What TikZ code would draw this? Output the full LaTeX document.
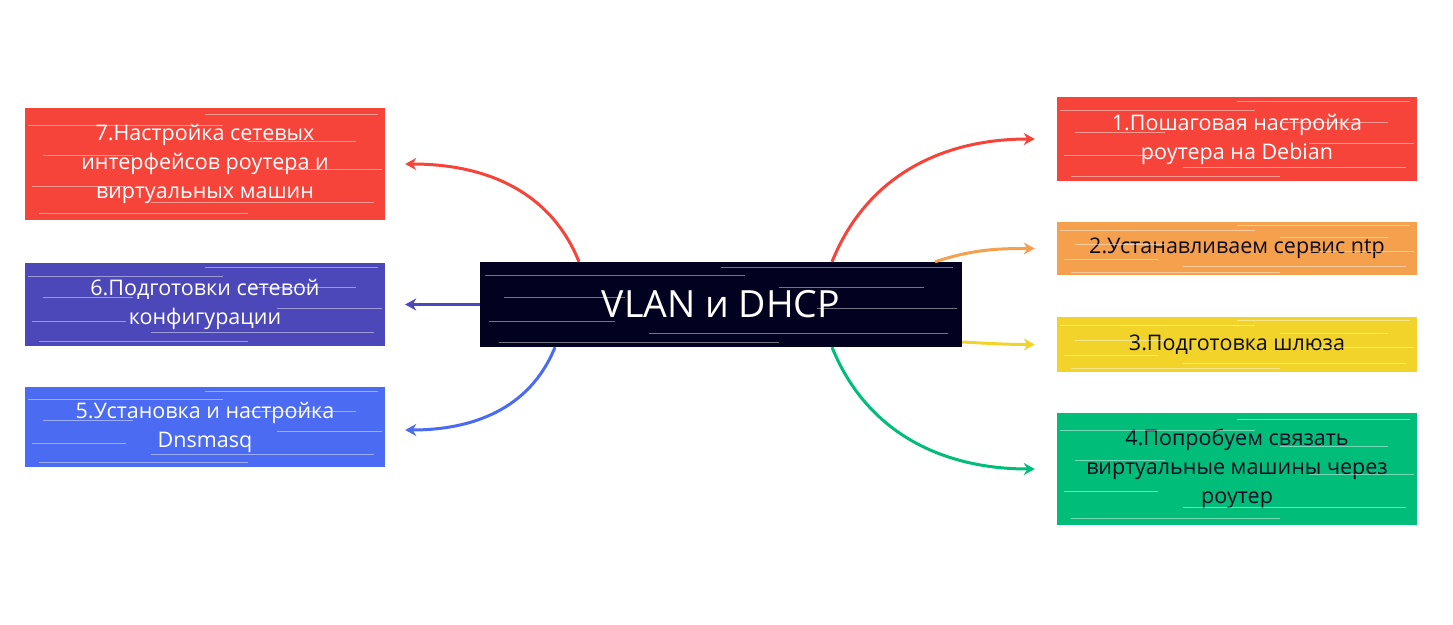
\documentclass[tikz,border=0pt]{standalone}
\usepackage{fontspec}
\setmainfont{Open Sans}
\usetikzlibrary{arrows.meta,calc}
\definecolor{cred}{HTML}{F6443A}
\definecolor{cindigo}{HTML}{4C48B9}
\definecolor{cblue}{HTML}{4A6BF2}
\definecolor{corange}{HTML}{F5A04C}
\definecolor{cyellow}{HTML}{F2D32A}
\definecolor{cgreen}{HTML}{00BD7A}
\definecolor{cnavy}{HTML}{020220}
\definecolor{cdark}{HTML}{0B0B22}
\newcommand{\brushlines}[1]{%
  \foreach \f/\a/\b in {0.06/0.04/0.62, 0.16/0.35/0.97, 0.3/0.02/0.28, 0.45/0.7/0.99, 0.58/0.05/0.3, 0.7/0.62/0.92, 0.84/0.01/0.55, 0.94/0.5/0.98}{%
    \path let \p1=(#1.south west), \p2=(#1.north east) in
      \pgfextra{\pgfmathsetmacro{\ya}{\y1+\f*(\y2-\y1)}\pgfmathsetmacro{\xa}{\x1+\a*(\x2-\x1)}\pgfmathsetmacro{\xb}{\x1+\b*(\x2-\x1)}}
      [draw=white, line width=0.8pt, opacity=0.45] (\xa pt,\ya pt) -- (\xb pt,\ya pt);
  }}
\begin{document}
\begin{tikzpicture}[x=1pt,y=1pt,
  box/.style={rectangle, minimum width=360pt, align=center, inner sep=0pt, text=white, font=\fontsize{21.5}{29}\selectfont},
  conn/.style={line width=3pt, -{Stealth[length=11pt,width=12pt,inset=3.5pt]}},
]
\useasboundingbox (0,0) rectangle (1453,624);
% central
\node[rectangle, fill=cnavy, minimum width=482pt, minimum height=85pt, inner sep=0pt, text=white, font=\fontsize{37.5}{42}\selectfont] (c) at (721,319.5) {VLAN и DHCP};
% left boxes
\node[box, fill=cred, minimum height=112pt] (b7) at (205,460) {7.Настройка сетевых\\интерфейсов роутера и\\виртуальных машин};
\node[box, fill=cindigo, minimum height=83pt] (b6) at (205,319.5) {6.Подготовки сетевой\\конфигурации};
\node[box, fill=cblue, minimum height=80pt] (b5) at (205,197) {5.Установка и настройка\\Dnsmasq};
% right boxes
\node[box, fill=cred, minimum height=84pt] (b1) at (1237,485) {1.Пошаговая настройка\\роутера на Debian};
\node[box, fill=corange, minimum height=53pt, text=cdark] (b2) at (1237,375.5) {2.Устанавливаем сервис ntp};
\node[box, fill=cyellow, minimum height=55pt, text=cdark] (b3) at (1237,279.5) {3.Подготовка шлюза};
\node[box, fill=cgreen, minimum height=112pt, text=cdark] (b4) at (1237,155) {4.Попробуем связать\\виртуальные машины через\\роутер};
% brush streaks
\brushlines{c}\brushlines{b7}\brushlines{b6}\brushlines{b5}\brushlines{b1}\brushlines{b2}\brushlines{b3}\brushlines{b4}
% connectors
\draw[conn, cred] ([xshift=-142pt]c.north) to[out=112,in=0] ([xshift=20pt]b7.east);
\draw[conn, cindigo] (c.west) -- ([xshift=20pt]b6.east);
\draw[conn, cblue] ([xshift=-166pt]c.south) to[out=-112,in=0] ([xshift=20pt,yshift=-3pt]b5.east);
\draw[conn, cred] ([xshift=111pt]c.north) to[out=68,in=180] ([xshift=-22pt]b1.west);
\draw[conn, corange] ([xshift=214pt]c.north) to[out=18,in=180] ([xshift=-22pt]b2.west);
\draw[conn, cyellow] ([yshift=-37.5pt]c.east) to[out=-3,in=180] ([xshift=-22pt]b3.west);
\draw[conn, cgreen] ([xshift=111pt]c.south) to[out=-68,in=180] ([xshift=-22pt]b4.west);
\end{tikzpicture}
\end{document}
